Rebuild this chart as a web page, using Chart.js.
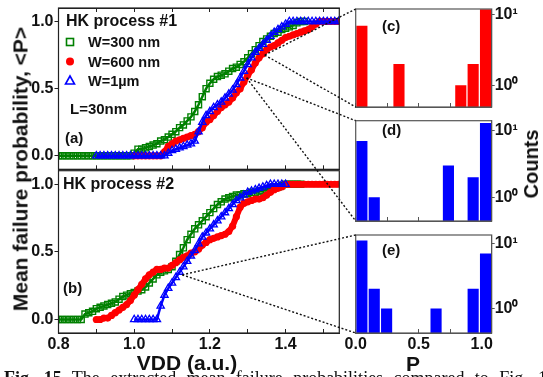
<!DOCTYPE html>
<html>
<head>
<meta charset="utf-8">
<script src="https://cdn.jsdelivr.net/npm/chart.js@4.4.0/dist/chart.umd.min.js"></script>
<style>
  html, body { margin: 0; padding: 0; background: #fff; }
  #wrap { position: relative; width: 543px; height: 377px; overflow: hidden; background: #fff; }
  canvas { position: absolute; }
  .t { position: absolute; font-family: "Liberation Sans", Arial, sans-serif; font-weight: bold; color: #111; white-space: nowrap; line-height: 1; }
  .c { transform: translate(-50%, -50%); }
  .l { transform: translateY(-50%); }
  .v { transform: translate(-50%, -50%) rotate(-90deg); }
  #caption { position: absolute; left: 4px; top: 369px; width: 552px; font-family: "Liberation Serif", "Times New Roman", serif; font-size: 18px; line-height: 1; color: #111; text-align: justify; text-align-last: justify; }
</style>
</head>
<body>
<div id="wrap">
  <canvas id="chartA" width="345" height="175" style="left:0;top:0"></canvas>
  <canvas id="chartB" width="345" height="212" style="left:0;top:165px"></canvas>
  <canvas id="histC" width="200" height="115" style="left:343px;top:0"></canvas>
  <canvas id="histD" width="200" height="117" style="left:343px;top:112px"></canvas>
  <canvas id="histE" width="200" height="150" style="left:343px;top:227px"></canvas>
  <canvas id="links" width="543" height="377" style="left:0;top:0"></canvas>

  <div class="t l" style="left:66px;top:21px;font-size:16px">HK process #1</div>
  <div class="t l" style="left:88px;top:42px;font-size:14.5px">W=300 nm</div>
  <div class="t l" style="left:88px;top:61.5px;font-size:14.5px">W=600 nm</div>
  <div class="t l" style="left:88px;top:81px;font-size:14.5px">W=1µm</div>
  <div class="t l" style="left:70px;top:108px;font-size:15px">L=30nm</div>
  <div class="t l" style="left:65px;top:137px;font-size:15px">(a)</div>
  <div class="t l" style="left:63px;top:183.5px;font-size:16px">HK process #2</div>
  <div class="t l" style="left:63px;top:287px;font-size:15px">(b)</div>
  <div class="t l" style="left:382px;top:25px;font-size:15px">(c)</div>
  <div class="t l" style="left:382px;top:128.5px;font-size:15px">(d)</div>
  <div class="t l" style="left:382px;top:248.5px;font-size:15px">(e)</div>
  <div class="t v" style="left:20px;top:169px;font-size:21px">Mean failure probability, &lt;P&gt;</div>
  <div class="t c" style="left:187px;top:362px;font-size:21px">VDD (a.u.)</div>
  <div class="t c" style="left:413px;top:363px;font-size:21px">P</div>
  <div class="t v" style="left:531px;top:164px;font-size:20px">Counts</div>
  <div id="caption"><b>Fig. 15</b> The extracted mean failure probabilities compared to Fig. 14</div>
</div>

<script>
// VDD grid shared by all curves (a.u.)
const vdd = [0.80, 0.81, 0.82, 0.83, 0.84, 0.85, 0.86, 0.87, 0.88, 0.89,
             0.90, 0.91, 0.92, 0.93, 0.94, 0.95, 0.96, 0.97, 0.98, 0.99,
             1.00, 1.01, 1.02, 1.03, 1.04, 1.05, 1.06, 1.07, 1.08, 1.09,
             1.10, 1.11, 1.12, 1.13, 1.14, 1.15, 1.16, 1.17, 1.18, 1.19,
             1.20, 1.21, 1.22, 1.23, 1.24, 1.25, 1.26, 1.27, 1.28, 1.29,
             1.30, 1.31, 1.32, 1.33, 1.34, 1.35, 1.36, 1.37, 1.38, 1.39,
             1.40, 1.41, 1.42, 1.43, 1.44, 1.45, 1.46, 1.47, 1.48, 1.49,
             1.50, 1.51, 1.52, 1.53, 1.54];

// HK process #1 (panel a)
const pA300 = [0, 0, 0, 0, 0, 0, 0, 0, 0, 0,
               0, 0, 0, 0, 0, 0, 0, 0, 0, 0,
               0.02, 0.05, 0.05, 0.06, 0.07, 0.08, 0.09, 0.11, 0.12, 0.14,
               0.16, 0.18, 0.21, 0.23, 0.26, 0.29, 0.33, 0.38, 0.44, 0.50,
               0.54, 0.57, 0.59, 0.60, 0.61, 0.63, 0.65, 0.66, 0.68, 0.70,
               0.73, 0.76, 0.79, 0.82, 0.85, 0.87, 0.89, 0.91, 0.92, 0.94,
               0.95, 0.96, 0.97, 0.99, 1.00, 1.00, null, null, null, null,
               null, null, null, null, null];
const pA600 = [null, null, null, null, null, null, null, null, null, null,
               null, null, null, null, null, null, null, null, null, null,
               0, 0, 0, 0, 0, 0, 0, 0, 0.03, 0.07,
               0.09, 0.11, 0.12, 0.13, 0.14, 0.15, 0.16, 0.18, 0.21, 0.25,
               0.27, 0.30, 0.33, 0.36, 0.38, 0.40, 0.43, 0.47, 0.50, 0.55,
               0.60, 0.64, 0.69, 0.73, 0.76, 0.79, 0.81, 0.82, 0.84, 0.86,
               0.88, 0.89, 0.90, 0.91, 0.92, 0.93, 0.94, 0.96, 0.98, 1.00,
               1, 1, 1, 1, 1];
const pA1u  = [null, null, null, null, null, null, null, null, null, null,
               0, 0, 0, 0, 0, 0, 0, 0, 0, 0,
               0, 0, 0, 0, 0, 0, 0, 0, 0, 0.02,
               0.04, 0.05, 0.06, 0.07, 0.08, 0.09, 0.11, 0.18, 0.25, 0.30,
               0.33, 0.36, 0.38, 0.40, 0.43, 0.46, 0.49, 0.53, 0.58, 0.63,
               0.68, 0.73, 0.77, 0.80, 0.83, 0.86, 0.89, 0.92, 0.94, 0.96,
               0.98, 1, 1, 1, 1, 1, 1, 1, 1, 1,
               1, 1, 1, 1, 1];

// HK process #2 (panel b)
const pB300 = [0, 0, 0, 0, 0, 0, 0, 0.04, 0.05, 0.06,
               0.08, 0.09, 0.10, 0.11, 0.12, 0.13, 0.15, 0.17, 0.18, 0.19,
               0.20, 0.21, 0.22, 0.24, 0.27, 0.30, 0.33, 0.35, 0.36, 0.37,
               0.39, 0.43, 0.48, 0.53, 0.59, 0.63, 0.67, 0.70, 0.73, 0.76,
               0.79, 0.82, 0.85, 0.87, 0.89, 0.90, 0.91, 0.92, 0.92, 0.93,
               0.93, 0.94, 0.94, 0.95, 0.95, 0.96, 0.97, 0.97, 0.98, 0.99,
               1, 1, 1, 1, 1, null, null, null, null, null,
               null, null, null, null, null];
const pB600 = [null, null, null, null, null, null, null, null, null, null,
               0, 0, 0.01, 0.01, 0.03, 0.05, 0.07, 0.09, 0.11, 0.14,
               0.18, 0.22, 0.26, 0.30, 0.33, 0.35, 0.37, 0.37, 0.38, 0.38,
               0.40, 0.42, 0.44, 0.46, 0.47, 0.49, 0.50, 0.52, 0.55, 0.57,
               0.59, 0.60, 0.61, 0.62, 0.63, 0.65, 0.69, 0.76, 0.83, 0.86,
               0.87, 0.88, 0.89, 0.89, 0.90, 0.92, 0.94, 0.96, 0.97, 0.98,
               1, 1, 1, 1, 1, 1, 1, 1, 1, 1,
               1, 1, 1, 1, 1];
const pB1u  = [null, null, null, null, null, null, null, null, null, null,
               null, null, null, null, null, null, null, null, null, null,
               0, 0, 0, 0, 0, 0, 0, 0.10, 0.18, 0.23,
               0.27, 0.31, 0.35, 0.39, 0.43, 0.47, 0.51, 0.56, 0.61, 0.64,
               0.67, 0.70, 0.73, 0.76, 0.79, 0.82, 0.85, 0.88, 0.90, 0.92,
               0.94, 0.95, 0.96, 0.97, 0.98, 0.99, 1, 1, 1, 1,
               1, null, null, null, null, null, null, null, null, null,
               null, null, null, null, null];

// histograms of P (11 bins over 0 .. 1.08)
const binLabels = ['0.05', '0.15', '0.25', '0.34', '0.44', '0.54', '0.64', '0.74', '0.83', '0.93', '1.03'];
const countsC = [7, null, null, 2, null, null, null, null, 1, 2, 12];
const countsD = [7, 1, null, null, null, null, null, 3, null, 2, 13];
const countsE = [11, 2, 1, null, null, null, 1, null, null, 2, 7];

// tick positions
const vddTicks = [0.8, 0.9, 1.0, 1.1, 1.2, 1.3, 1.4, 1.5];
const probTicks = [0, 0.5, 1.0];
const pTicks = [0, 0.25, 0.5, 0.75, 1.0];
const countTicks = [1, 10];

const GREEN = '#008000', RED = '#ff0000', BLUE = '#0000ff';
const FONT = "'Liberation Sans', Arial, sans-serif";
Chart.defaults.font.family = FONT;
Chart.defaults.color = '#111';

const framePlugin = {
    id: 'frame',
    afterDraw(chart, args, opts) {
        const a = chart.chartArea;
        const ctx = chart.ctx;
        ctx.save();
        ctx.strokeStyle = opts.color || '#222';
        ctx.lineWidth = 1.2;
        ctx.strokeRect(a.left, a.top, a.right - a.left, a.bottom - a.top);
        ctx.restore();
    }
};

// little legend markers in panel (a), styled from the datasets
const legendMarks = {
    id: 'legendMarks',
    afterDraw(chart, args, opts) {
        if (!opts.rows) return;
        const ctx = chart.ctx;
        chart.data.datasets.forEach((ds, i) => {
            const x = opts.x, y = opts.rows[i];
            ctx.save();
            ctx.lineWidth = 1.6;
            ctx.strokeStyle = ds.pointBorderColor;
            ctx.fillStyle = ds.pointBorderColor;
            ctx.beginPath();
            if (ds.pointStyle === 'rect') {
                ctx.strokeRect(x - 3.5, y - 3.5, 7, 7);
            } else if (ds.pointStyle === 'circle') {
                ctx.arc(x, y, 4, 0, Math.PI * 2);
                ctx.fill();
            } else {
                ctx.moveTo(x, y - 5);
                ctx.lineTo(x + 4.5, y + 3);
                ctx.lineTo(x - 4.5, y + 3);
                ctx.closePath();
                ctx.stroke();
            }
            ctx.restore();
        });
    }
};

function toPoints(p) {
    const pts = [];
    vdd.forEach((v, i) => {
        if (p[i] !== null) pts.push({ x: v, y: p[i] });
    });
    return pts;
}

function curveSets(p300, p600, p1u) {
    return [
        { label: 'W=300 nm', data: toPoints(p300), pointStyle: 'rect', pointRadius: 4.3,
          pointBorderWidth: 1.4, pointBorderColor: GREEN, pointBackgroundColor: 'rgba(0,0,0,0)',
          showLine: true, borderColor: GREEN, borderWidth: 2.5, order: 2 },
        { label: 'W=600 nm', data: toPoints(p600), pointStyle: 'circle', pointRadius: 3.6,
          pointBorderWidth: 0, pointBorderColor: RED, pointBackgroundColor: RED,
          showLine: true, borderColor: RED, borderWidth: 6, order: 1 },
        { label: 'W=1µm', data: toPoints(p1u), pointStyle: 'triangle', pointRadius: 4.2,
          pointBorderWidth: 1.3, pointBorderColor: BLUE, pointBackgroundColor: 'rgba(0,0,0,0)',
          showLine: true, borderColor: BLUE, borderWidth: 2.5, order: 0 }
    ];
}

const tickFont = { size: 16, weight: 'bold', family: FONT };

function setTicks(list) {
    return s => { s.ticks = list.map(v => ({ value: v })); };
}

// fix an axis box size and drop the label overhang padding Chart.js adds
function fixSize(dim, size) {
    return s => {
        s[dim] = size;
        s.paddingTop = 0; s.paddingBottom = 0; s.paddingLeft = 0; s.paddingRight = 0;
    };
}

function mainChart(id, sets, cfg) {
    const scales = {
        x: {
            type: 'linear', position: 'bottom', min: 0.8, max: 1.542,
            grid: { drawOnChartArea: false, tickLength: -4, color: '#222' },
            border: { color: '#222' },
            afterBuildTicks: setTicks(vddTicks),
            ticks: {
                autoSkip: false, maxRotation: 0, display: cfg.xLabels, padding: 6, font: tickFont,
                callback: v => Math.round(v * 10) % 2 === 0 ? v.toFixed(1) : ''
            },
            afterFit: fixSize('height', cfg.xHeight)
        },
        y: {
            min: -0.1, max: 1.1,
            grid: { drawOnChartArea: false, tickLength: 4, color: '#222' },
            border: { color: '#222' },
            afterBuildTicks: setTicks(probTicks),
            ticks: { autoSkip: false, padding: 1, font: tickFont, callback: v => v.toFixed(1) },
            afterFit: fixSize('width', 58.5)
        }
    };
    if (cfg.topTicks) {
        scales.xTop = {
            type: 'linear', position: 'top', min: 0.8, max: 1.542,
            grid: { drawOnChartArea: false, tickLength: -4, color: '#222' },
            border: { color: '#222' },
            afterBuildTicks: setTicks(vddTicks),
            ticks: { display: false },
            afterFit: fixSize('height', 8)
        };
    }
    return new Chart(document.getElementById(id), {
        type: 'scatter',
        data: { datasets: sets },
        options: {
            responsive: false, animation: false, devicePixelRatio: 1,
            layout: { padding: { left: 0, right: 3, top: cfg.padTop, bottom: 0 } },
            plugins: {
                legend: { display: false }, tooltip: { enabled: false },
                frame: { color: '#222' },
                legendMarks: cfg.marks || {}
            },
            scales: scales
        },
        plugins: [framePlugin, legendMarks]
    });
}

function histChart(id, counts, color, yMin, yMax, cfg) {
    return new Chart(document.getElementById(id), {
        type: 'bar',
        data: {
            labels: binLabels,
            datasets: [{ data: counts, backgroundColor: color, borderWidth: 0, barPercentage: 0.9, categoryPercentage: 1 }]
        },
        options: {
            responsive: false, animation: false, devicePixelRatio: 1,
            layout: { padding: { left: 12.7, right: 0, top: cfg.padTop, bottom: 0 } },
            plugins: { legend: { display: false }, tooltip: { enabled: false }, frame: { color: '#555' } },
            scales: {
                x: { display: false, offset: true },
                xt: {
                    type: 'linear', position: 'bottom', min: 0, max: 1.079, offset: false,
                    grid: { drawOnChartArea: false, offset: false, tickLength: -4, color: '#555' },
                    border: { color: '#555' },
                    afterBuildTicks: setTicks(pTicks),
                    ticks: {
                        autoSkip: false, maxRotation: 0, display: cfg.xLabels, padding: 6, font: tickFont,
                        callback: v => Math.round(v * 4) % 2 === 0 ? v.toFixed(1) : ''
                    },
                    afterFit: fixSize('height', cfg.xHeight)
                },
                y: {
                    type: 'logarithmic', position: 'right', min: yMin, max: yMax,
                    grid: { drawOnChartArea: false, tickLength: 3, color: '#555' },
                    border: { color: '#555' },
                    afterBuildTicks: setTicks(countTicks),
                    ticks: {
                        autoSkip: false, padding: 0, font: tickFont,
                        callback: v => v === 1 ? '10\u2070' : '10\u00b9'
                    },
                    afterFit: fixSize('width', 51.3)
                }
            }
        },
        plugins: [framePlugin]
    });
}

const charts = {};
charts.A = mainChart('chartA', curveSets(pA300, pA600, pA1u),
    { xLabels: false, xHeight: 5, padTop: 0, topTicks: true, marks: { x: 70, rows: [42, 61.5, 81] } });
charts.B = mainChart('chartB', curveSets(pB300, pB600, pB1u),
    { xLabels: true, xHeight: 44, padTop: 5, topTicks: false });
charts.C = histChart('histC', countsC, RED, 0.49, 12.1, { xLabels: false, xHeight: 8, padTop: 9 });
charts.D = histChart('histD', countsD, BLUE, 0.44, 14.1, { xLabels: false, xHeight: 8, padTop: 8.7 });
charts.E = histChart('histE', countsE, BLUE, 0.42, 13.4, { xLabels: true, xHeight: 44, padTop: 8 });

// dotted zoom lines: a point on a curve panel to the left corners of a histogram
const links = [
    { from: 'A', vdd: 1.345, p: 0.75, to: 'C' },
    { from: 'A', vdd: 1.297, p: 0.58, to: 'D' },
    { from: 'B', vdd: 1.127, p: 0.33, to: 'E' }
];

function drawLinks() {
    const ctx = document.getElementById('links').getContext('2d');
    ctx.strokeStyle = '#111';
    ctx.lineWidth = 1.4;
    ctx.setLineDash([2, 2]);
    links.forEach(l => {
        const src = charts[l.from], dst = charts[l.to];
        const sx = src.canvas.offsetLeft + src.scales.x.getPixelForValue(l.vdd);
        const sy = src.canvas.offsetTop + src.scales.y.getPixelForValue(l.p);
        const tx = dst.canvas.offsetLeft + dst.chartArea.left;
        [dst.chartArea.top, dst.chartArea.bottom].forEach(ty => {
            ctx.beginPath();
            ctx.moveTo(sx, sy);
            ctx.lineTo(tx, dst.canvas.offsetTop + ty);
            ctx.stroke();
        });
    });
}
drawLinks();
</script>
</body>
</html>
